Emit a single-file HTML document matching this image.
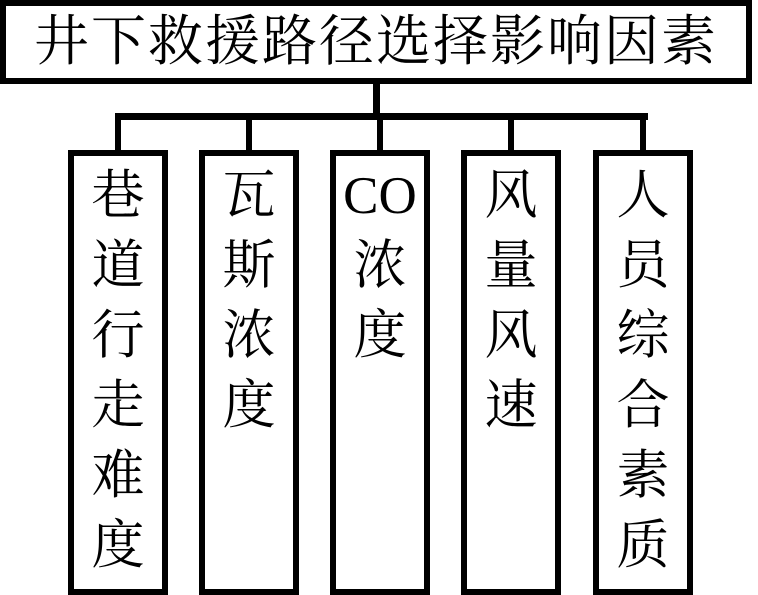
<!DOCTYPE html>
<html><head><meta charset="utf-8"><style>
body{margin:0;width:758px;height:595px;background:#fff;position:relative;overflow:hidden;font-family:"Liberation Serif","Noto Serif CJK SC",serif;}
.b{position:absolute;border:6px solid #000;box-sizing:border-box;background:#fff}
.l{position:absolute;background:#000}
.t{position:absolute;top:0;left:0;width:752px;height:84px;font-size:55px;line-height:72px;text-align:center;letter-spacing:2px;white-space:nowrap}
.c{top:150px;width:100px;height:445px;font-size:53px;line-height:70px;text-align:center;padding-top:5px}
</style></head><body>
<div class="b t">井下救援路径选择影响因素</div>
<div class="l" style="left:373px;top:80px;width:7px;height:40px"></div>
<div class="l" style="left:115px;top:113px;width:533px;height:7px"></div>
<div class="l" style="left:115px;top:113px;width:6px;height:40px"></div>
<div class="l" style="left:246px;top:113px;width:6px;height:40px"></div>
<div class="l" style="left:377px;top:113px;width:6px;height:40px"></div>
<div class="l" style="left:508px;top:113px;width:6px;height:40px"></div>
<div class="l" style="left:640px;top:113px;width:6px;height:40px"></div>
<div class="b c" style="left:68px">巷<br>道<br>行<br>走<br>难<br>度</div>
<div class="b c" style="left:199px">瓦<br>斯<br>浓<br>度</div>
<div class="b c" style="left:330px">CO<br>浓<br>度</div>
<div class="b c" style="left:461px">风<br>量<br>风<br>速</div>
<div class="b c" style="left:593px">人<br>员<br>综<br>合<br>素<br>质</div>
</body></html>
